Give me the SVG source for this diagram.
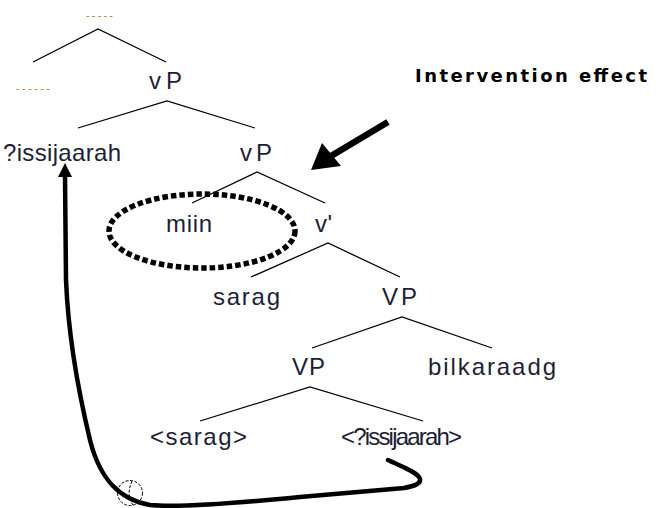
<svg xmlns="http://www.w3.org/2000/svg" width="658" height="508" viewBox="0 0 658 508">
<style>
.t{font-family:"Liberation Sans",Arial,sans-serif;font-size:24px;fill:#1e1e36}
.d{font-family:"Liberation Sans",Arial,sans-serif;font-size:11px;fill:#b08040}
.b{stroke:#000;stroke-width:1.3;fill:none}
.h{font-family:"DejaVu Sans",sans-serif;font-weight:bold;font-size:18px;fill:#000}
</style>
<g id="connectors">
<path class="b" d="M33,62 L98,29 L166,62"/>
<path class="b" d="M78,128 L167,101 L255,128"/>
<path class="b" d="M192,203 L257,172 L325,203"/>
<path class="b" d="M251,277 L328,243 L400,277"/>
<path class="b" d="M312,348 L402,317 L492,348"/>
<path class="b" d="M200,421 L310,387 L423,421"/>
<path d="M388,460 C400,466 418,472 420,479 C421,484 414,486 404,488 L300,497 C240,503 180,508 150,505 C120,500 100,480 90,440 C78,390 68,330 66,280 L65,176" fill="none" stroke="#000" stroke-width="4.5" stroke-linecap="round"/>
<path d="M65,163 L72,177 L58,177 z" fill="#000"/>
<line x1="388" y1="122" x2="326" y2="159" stroke="#000" stroke-width="6.5"/>
<path d="M311,170 L322,143 L341,166 z" fill="#000"/>
</g>
<g id="ellipse-miin">
<ellipse cx="202" cy="231" rx="93" ry="37" fill="none" stroke="#000" stroke-width="5.5" stroke-dasharray="5.5 3"/>
</g>
<g id="circle-mark">
<circle cx="130" cy="493" r="12.5" fill="none" stroke="#000" stroke-width="1" stroke-dasharray="3 1.5"/>
<path d="M132,481 C128,490 128,498 133,505" fill="none" stroke="#000" stroke-width="1" stroke-dasharray="3 1.5"/>
</g>
<g id="n-top"><text class="d" x="86" y="19" textLength="27" lengthAdjust="spacing">-----</text></g>
<g id="n-left-dash"><text class="d" x="16" y="92" textLength="34" lengthAdjust="spacing">------</text></g>
<g id="n-vP1"><text class="t" x="149" y="89" textLength="33" lengthAdjust="spacing">vP</text></g>
<g id="n-issijaarah"><text class="t" x="3" y="161" textLength="118" lengthAdjust="spacing">?issijaarah</text></g>
<g id="n-vP2"><text class="t" x="240" y="161" textLength="32" lengthAdjust="spacing">vP</text></g>
<g id="n-miin"><text class="t" x="166" y="232" textLength="46" lengthAdjust="spacing">miin</text></g>
<g id="n-vbar"><text class="t" x="315" y="232" textLength="17" lengthAdjust="spacing">v'</text></g>
<g id="n-sarag"><text class="t" x="213" y="305" textLength="67" lengthAdjust="spacing">sarag</text></g>
<g id="n-VP1"><text class="t" x="382" y="305" textLength="35" lengthAdjust="spacing">VP</text></g>
<g id="n-VP2"><text class="t" x="292" y="375" textLength="33" lengthAdjust="spacing">VP</text></g>
<g id="n-bilkaraadg"><text class="t" x="428" y="375" textLength="128" lengthAdjust="spacing">bilkaraadg</text></g>
<g id="n-sarag-trace"><text class="t" x="150" y="445" textLength="97" lengthAdjust="spacing">&lt;sarag&gt;</text></g>
<g id="n-issijaarah-trace"><text class="t" x="341" y="445" textLength="121" lengthAdjust="spacing">&lt;?issijaarah&gt;</text></g>
<g id="label-intervention"><text class="h" x="415" y="82" textLength="232" lengthAdjust="spacing">Intervention effect</text></g>
</svg>
